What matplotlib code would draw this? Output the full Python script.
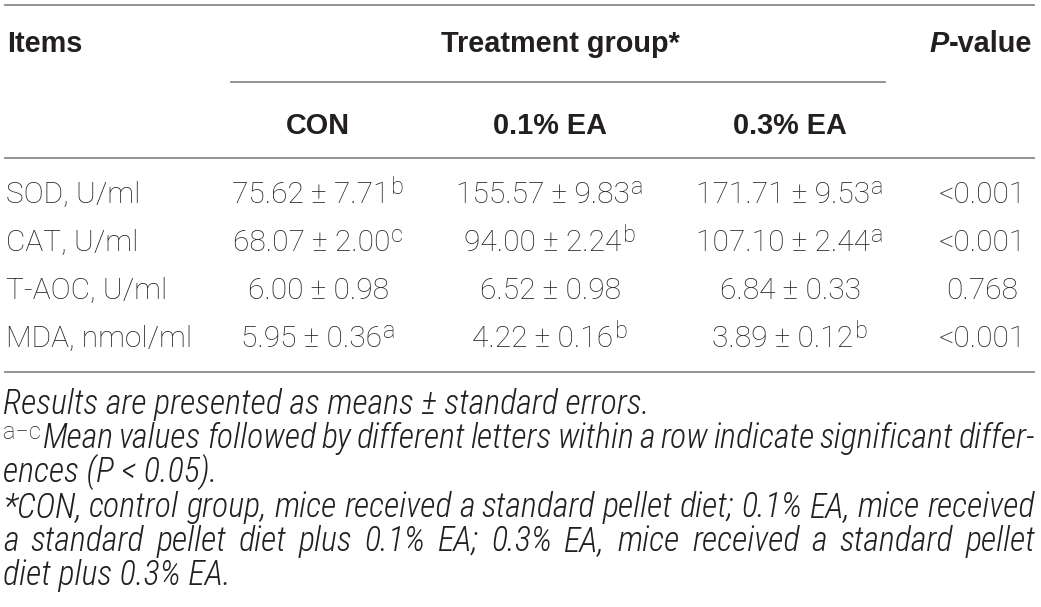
import matplotlib
matplotlib.use('Agg')
import matplotlib.pyplot as plt

# table content
items = ['SOD, U/ml', 'CAT, U/ml', 'T-AOC, U/ml', 'MDA, nmol/ml']
groups = ['CON', '0.1% EA', '0.3% EA']
con_mean = ['75.62', '68.07', '6.00', '5.95']
con_se = ['7.71', '2.00', '0.98', '0.36']
con_sup = ['b', 'c', '', 'a']
ea1_mean = ['155.57', '94.00', '6.52', '4.22']
ea1_se = ['9.83', '2.24', '0.98', '0.16']
ea1_sup = ['a', 'b', '', 'b']
ea3_mean = ['171.71', '107.10', '6.84', '3.89']
ea3_se = ['9.53', '2.44', '0.33', '0.12']
ea3_sup = ['a', 'a', '', 'b']
p_values = ['<0.001', '<0.001', '0.768', '<0.001']

note1 = 'Results are presented as means \u00b1 standard errors.'
note2_sup = 'a\u2212c'
note2 = 'Mean values followed by different letters within a row indicate significant differ-'
note3 = 'ences (P < 0.05).'
note4 = '*CON, control group, mice received a standard pellet diet; 0.1% EA, mice received'
note5 = 'a standard pellet diet plus 0.1% EA; 0.3% EA, mice received a standard pellet'
note6 = 'diet plus 0.3% EA.'

W, H = 1041, 607
fig = plt.figure(figsize=(W / 100, H / 100), dpi=100)
ax = fig.add_axes([0, 0, 1, 1])
ax.set_xlim(0, W)
ax.set_ylim(H, 0)
ax.axis('off')
r = fig.canvas.get_renderer()

ink = '#231f20'
rule = '#8a8a8a'
bold = dict(family=['Liberation Sans', 'DejaVu Sans'], weight='bold', size=20.8, color=ink)
light = dict(family=['Roboto', 'DejaVu Sans'], weight='light', size=21.5, color=ink)
sup_font = dict(family=['Roboto', 'DejaVu Sans'], weight='light', size=17, color=ink)


def wid(t):
    return t.get_window_extent(r).width


# rules
ax.plot([5, 1034], [5, 5], color=rule, lw=1.3)
ax.plot([231, 885], [82, 82], color=rule, lw=1.3)
ax.plot([5, 1034], [158, 158], color=rule, lw=1.3)
ax.plot([5, 1034], [372, 372], color=rule, lw=1.3)

# header
ax.text(7, 52, 'Items', ha='left', va='baseline', **bold)
ax.text(560, 52, 'Treatment group*', ha='center', va='baseline', **bold)
tv = ax.text(1032, 52, '-value', ha='right', va='baseline', **bold)
ax.text(1032 - wid(tv), 52, 'P', ha='right', va='baseline', style='italic', **bold)

col_x = [318, 550, 790]
p_x = 982
for g, cx in zip(groups, col_x):
    ax.text(cx, 134, g, ha='center', va='baseline', **bold)

row_y = [203, 251, 299, 347]
cols = [(con_mean, con_se, con_sup), (ea1_mean, ea1_se, ea1_sup), (ea3_mean, ea3_se, ea3_sup)]
for i, yb in enumerate(row_y):
    ax.text(6, yb, items[i], ha='left', va='baseline', **light)
    for (means, ses, sups), cx in zip(cols, col_x):
        t = ax.text(0, yb, means[i] + ' \u00b1 ' + ses[i], ha='left', va='baseline', **light)
        w = wid(t)
        ws = 0
        if sups[i]:
            ts = ax.text(0, yb - 9, sups[i], ha='left', va='baseline', **sup_font)
            ws = wid(ts) + 1
        x0 = cx - (w + ws) / 2
        t.set_x(x0)
        if sups[i]:
            ts.set_x(x0 + w + 1)
    ax.text(p_x, yb, p_values[i], ha='center', va='baseline', **light)

# footnotes
foot = dict(family=['Roboto Condensed', 'DejaVu Sans'], style='italic', weight='light', color=ink)
probe = ax.text(0, 0, note1, size=20, **foot)
fs = 20 * 645 / wid(probe)
probe.remove()
foot['size'] = fs


def justify(line, x_left, x_right, yb):
    words = line.split(' ')
    texts = [ax.text(0, yb, w_, ha='left', va='baseline', **foot) for w_ in words]
    ws = [wid(t) for t in texts]
    gap = (x_right - x_left - sum(ws)) / (len(ws) - 1)
    x = x_left
    for t, w in zip(texts, ws):
        t.set_x(x)
        x += w + gap


foot_y = [414, 448, 482, 517, 551, 585]
ax.text(3, foot_y[0], note1, ha='left', va='baseline', **foot)
ts = ax.text(3, foot_y[1] - 9, note2_sup, ha='left', va='baseline', **sup_font)
justify(note2, 3 + wid(ts) + 2, 1035, foot_y[1])
ax.text(3, foot_y[2], note3, ha='left', va='baseline', **foot)
justify(note4, 3, 1035, foot_y[3])
justify(note5, 3, 1035, foot_y[4])
ax.text(3, foot_y[5], note6, ha='left', va='baseline', **foot)

fig.savefig('out.png', dpi=100)
